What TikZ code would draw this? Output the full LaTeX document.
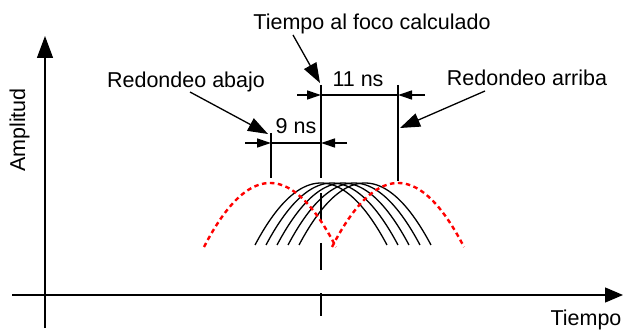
\documentclass[tikz,border=0pt]{standalone}
\usepackage{fontspec}
\setmainfont{Liberation Sans}
\usetikzlibrary{arrows.meta}
\begin{document}
\begin{tikzpicture}[x=1pt,y=-1pt,
  lbl/.style={font=\fontsize{21.5}{24}\selectfont, inner sep=0pt, anchor=base},
  ln/.style={line width=1.3pt, black},
  callout/.style={ln, -{Triangle[length=20pt,width=14pt]}},
  dimtip/.style={ln, -{Triangle[length=14pt,width=9pt]}},
  bump/.style={line width=1.3pt, black},
  redbump/.style={line width=2.4pt, red, dash pattern=on 4.5pt off 3.5pt},
  centerline/.style={line width=2.6pt, black}]
\useasboundingbox (0,0) rectangle (624,331);

% axes
\coordinate (ybot) at (45,328);
\coordinate (ytop) at (45,36);
\coordinate (xl) at (12,295);
\coordinate (xr) at (623,295);
\draw[ln, -{Triangle[length=22pt,width=16pt]}] (ybot) -- (ytop);
\draw[ln, -{Triangle[length=18pt,width=15pt]}] (xl) -- (xr);

% labels
\node[lbl] (tfoco) at (372,30) {Tiempo al foco calculado};
\node[lbl] (rabajo) at (186,88) {Redondeo abajo};
\node[lbl] (rarriba) at (527,86) {Redondeo arriba};
\node[lbl] (ns11) at (358,87) {11 ns};
\node[lbl] (ns9) at (296,134) {9 ns};
\node[lbl] (tiempo) at (586,325) {Tiempo};
\node[lbl, rotate=90] (amp) at (25,130) {Amplitud};

% vertical reference lines
\coordinate (ctop) at (321,85);
\coordinate (cmid) at (321,178);
\coordinate (cdash) at (321,193);
\coordinate (cbot) at (321,316);
\draw[centerline] (ctop) -- (cmid);
\draw[line width=2pt, dash pattern=on 27pt off 23pt] (cdash) -- (cbot);

\coordinate (ltop) at (271,133);
\coordinate (lbot) at (271,178);
\draw[ln] (ltop) -- (lbot);

\coordinate (rtop) at (398,85);
\coordinate (rbot) at (398,181);
\draw[ln] (rtop) -- (rbot);

% 11 ns dimension
\coordinate (d11a) at (297,95);
\coordinate (d11l) at (321,95);
\coordinate (d11r) at (398,95);
\coordinate (d11b) at (425,95);
\draw[dimtip] (d11a) -- (d11l);
\draw[ln] (d11l) -- (d11r);
\draw[dimtip] (d11b) -- (d11r);

% 9 ns dimension
\coordinate (d9a) at (245,143);
\coordinate (d9l) at (271,143);
\coordinate (d9r) at (321,143);
\coordinate (d9b) at (347,143);
\draw[dimtip] (d9a) -- (d9l);
\draw[ln] (d9l) -- (d9r);
\draw[dimtip] (d9b) -- (d9r);

% callout arrows
\coordinate (tfs) at (293,35);
\coordinate (tft) at (320,83);
\draw[callout] (tfs) -- (tft);
\coordinate (ras) at (190,92);
\coordinate (rat) at (268,134);
\draw[callout] (ras) -- (rat);
\coordinate (rrs) at (485,91);
\coordinate (rrt) at (400,128);
\draw[callout] (rrs) -- (rrt);

% black pulses
\foreach \c in {321,332,343,354,365}{
  \draw[bump] plot[domain=\c-66:\c+66, samples=60]
    (\x, {245-62*(1-((\x-\c)/66)*((\x-\c)/66))});
}
% red dotted pulses
\foreach \c in {270,398}{
  \draw[redbump] plot[domain=\c-66:\c+66, samples=60]
    (\x, {247-64*(1-((\x-\c)/66)*((\x-\c)/66))});
}
\end{tikzpicture}
\end{document}
